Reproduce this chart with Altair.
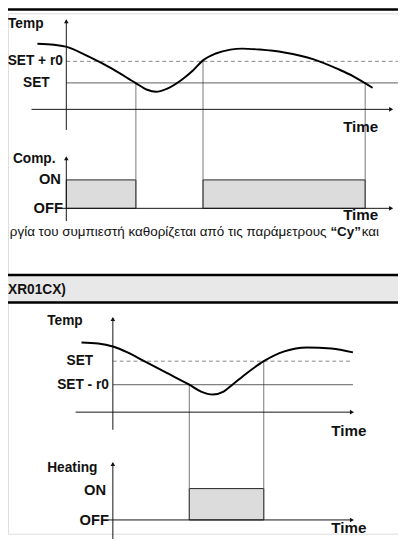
import altair as alt
import pandas as pd

W, H = 398, 531
FONT = "Liberation Sans"

# ---- temperature curves (page pixel space) ----
top_curve_x = [38, 55, 67, 90, 115, 138, 150, 159, 170, 185, 197, 207, 220, 235, 247, 265, 290, 320, 345, 360, 372, 380]
top_curve_y = [39, 40, 42, 52, 65, 79, 86, 88, 85, 76, 66, 56, 49, 45, 44, 45, 48, 55, 65, 72, 79, 84]
bot_curve_x = [83, 100, 115, 130, 147, 170, 193, 205, 217, 228, 237, 252, 269, 290, 313, 338, 360]
bot_curve_y = [344, 345, 348, 354, 363, 375, 387, 394, 397, 394, 387, 375, 363, 353, 349, 350, 354]

# ---- black axis lines: x, y, x2, y2 ----
axis_x1 = [67.5, 32, 67.5, 63, 115, 77, 115, 110]
axis_y1 = [15, 106, 155, 207, 319, 415, 467, 525]
axis_x2 = [67.5, 398, 67.5, 398, 115, 358, 115, 358]
axis_y2 = [127, 106, 220, 207, 433, 415, 547, 525]

# ---- arrowheads ----
arrow_x = [67.5, 399, 67.5, 399, 115, 359, 115, 359]
arrow_y = [16, 106, 156, 207, 320, 415, 468, 525]
arrow_shape = ["triangle-up", "triangle-right", "triangle-up", "triangle-right",
               "triangle-up", "triangle-right", "triangle-up", "triangle-right"]

# ---- SET (solid thin) lines ----
set_x1 = [67.5, 115]
set_x2 = [406, 360]
set_y = [79, 387]
# ---- dashed threshold lines ----
dash_x1 = [67.5, 115]
dash_x2 = [406, 360]
dash_y = [57, 363]

# ---- vertical connectors ----
conn_x = [138.5, 207, 372.5, 193, 269]
conn_y1 = [79, 56, 79, 387, 363]
conn_y2 = [207, 207, 207, 525, 525]

# ---- ON periods ----
on_x1 = [67.5, 207, 193]
on_x2 = [138.5, 372.5, 269]
on_y1 = [178, 178, 493]
on_y2 = [207, 207, 525]

# ---- header band ----
band_y1 = [275]
band_y2 = [303]
thick_y = [4, 275, 303]

# ---- labels ----
left_txt = ["Temp", "Comp.", "XR01CX)", "Temp", "Heating"]
left_x = [8, 13, 8, 48, 48]
left_y = [19, 157, 290, 322, 472]

right_txt = ["SET + r0", "ON", "OFF", "SET", "SET - r0", "ON", "OFF"]
right_x = [64, 62, 64, 95, 111, 108, 111]
right_y = [57, 177, 207, 363, 387, 495, 525]
right_size = [14, 15, 15, 14, 14, 15, 15]

center_txt = ["SET"]
center_x = [37]
center_y = [79]

time_x = [350, 350, 338, 338]
time_y = [124, 214, 434, 533]

greek_parts = ["ργία του συμπιεστή καθορίζεται από τις παράμετρους", "“Cy”", "και"]
greek_x = [333, 337, 369]
greek_y = 231

xs = alt.Scale(domain=[8, 8 + W], nice=False, zero=False)
ys = alt.Scale(domain=[8 + H, 8], nice=False, zero=False)


def X(f):
    return alt.X(f, type="quantitative", scale=xs, axis=None)


def Y(f):
    return alt.Y(f, type="quantitative", scale=ys, axis=None)


band = alt.Chart(pd.DataFrame({"x": [0], "x2": [406], "y": band_y1, "y2": band_y2})).mark_rect(
    color="#e8e8e8").encode(x=X("x"), x2="x2", y=Y("y"), y2="y2")

thick = alt.Chart(pd.DataFrame({"x": [0] * 3, "x2": [406] * 3, "y": thick_y})).mark_rule(
    color="black", strokeWidth=2.5).encode(x=X("x"), x2="x2", y=Y("y"))

rects = alt.Chart(pd.DataFrame({"x": on_x1, "x2": on_x2, "y": on_y1, "y2": on_y2})).mark_rect(
    fill="#dcdcdc", stroke="#222", strokeWidth=1).encode(x=X("x"), x2="x2", y=Y("y"), y2="y2")

conns = alt.Chart(pd.DataFrame({"x": conn_x, "y": conn_y1, "y2": conn_y2})).mark_rule(
    color="#555", strokeWidth=0.8).encode(x=X("x"), y=Y("y"), y2="y2")

sets = alt.Chart(pd.DataFrame({"x": set_x1, "x2": set_x2, "y": set_y})).mark_rule(
    color="#333", strokeWidth=0.8).encode(x=X("x"), x2="x2", y=Y("y"))

dashes = alt.Chart(pd.DataFrame({"x": dash_x1, "x2": dash_x2, "y": dash_y})).mark_rule(
    color="#666", strokeWidth=0.8, strokeDash=[4, 3]).encode(x=X("x"), x2="x2", y=Y("y"))

axes = alt.Chart(pd.DataFrame({"x": axis_x1, "y": axis_y1, "x2": axis_x2, "y2": axis_y2})).mark_rule(
    color="#111", strokeWidth=1).encode(x=X("x"), y=Y("y"), x2="x2", y2="y2")

arrows = alt.Chart(pd.DataFrame({"x": arrow_x, "y": arrow_y, "s": arrow_shape})).mark_point(
    filled=True, color="#111", size=22, opacity=1).encode(
    x=X("x"), y=Y("y"), shape=alt.Shape("s:N", scale=None, legend=None))

curve_top = alt.Chart(pd.DataFrame({"x": top_curve_x, "y": top_curve_y})).mark_line(
    color="black", strokeWidth=2, interpolate="monotone").encode(x=X("x"), y=Y("y"))
curve_bot = alt.Chart(pd.DataFrame({"x": bot_curve_x, "y": bot_curve_y})).mark_line(
    color="black", strokeWidth=2, interpolate="monotone").encode(x=X("x"), y=Y("y"))

t_left = alt.Chart(pd.DataFrame({"x": left_x, "y": left_y, "t": left_txt})).mark_text(
    align="left", baseline="middle", font=FONT, fontWeight="bold", fontSize=14, color="#111").encode(
    x=X("x"), y=Y("y"), text="t:N")

t_right = alt.Chart(pd.DataFrame({"x": right_x, "y": right_y, "t": right_txt, "s": right_size})).mark_text(
    align="right", baseline="middle", font=FONT, fontWeight="bold", color="#111").encode(
    x=X("x"), y=Y("y"), text="t:N", size=alt.Size("s:Q", scale=None, legend=None))

t_center = alt.Chart(pd.DataFrame({"x": center_x, "y": center_y, "t": center_txt})).mark_text(
    align="center", baseline="middle", font=FONT, fontWeight="bold", fontSize=14, color="#111").encode(
    x=X("x"), y=Y("y"), text="t:N")

t_time = alt.Chart(pd.DataFrame({"x": time_x, "y": time_y, "t": ["Time"] * 4})).mark_text(
    align="left", baseline="middle", font=FONT, fontWeight="bold", fontSize=15.5, color="#111").encode(
    x=X("x"), y=Y("y"), text="t:N")

g1 = alt.Chart(pd.DataFrame({"x": [greek_x[0]], "y": [greek_y], "t": [greek_parts[0]]})).mark_text(
    align="right", baseline="middle", font=FONT, fontSize=13.7, color="#111").encode(
    x=X("x"), y=Y("y"), text="t:N")
g2 = alt.Chart(pd.DataFrame({"x": [greek_x[1]], "y": [greek_y], "t": [greek_parts[1]]})).mark_text(
    align="left", baseline="middle", font=FONT, fontWeight="bold", fontSize=13.7, color="#111").encode(
    x=X("x"), y=Y("y"), text="t:N")
g3 = alt.Chart(pd.DataFrame({"x": [greek_x[2]], "y": [greek_y], "t": [greek_parts[2]]})).mark_text(
    align="left", baseline="middle", font=FONT, fontSize=13.7, color="#111").encode(
    x=X("x"), y=Y("y"), text="t:N")

chart = alt.layer(
    band, thick, rects, conns, sets, dashes, axes, arrows, curve_top, curve_bot,
    t_left, t_right, t_center, t_time, g1, g2, g3
).properties(
    width=W, height=H, padding=0, autosize=alt.AutoSizeParams(type="none")
).configure_view(stroke=None).configure(background="white")

chart.save("out.html", embed_options={"renderer": "svg", "actions": False})
